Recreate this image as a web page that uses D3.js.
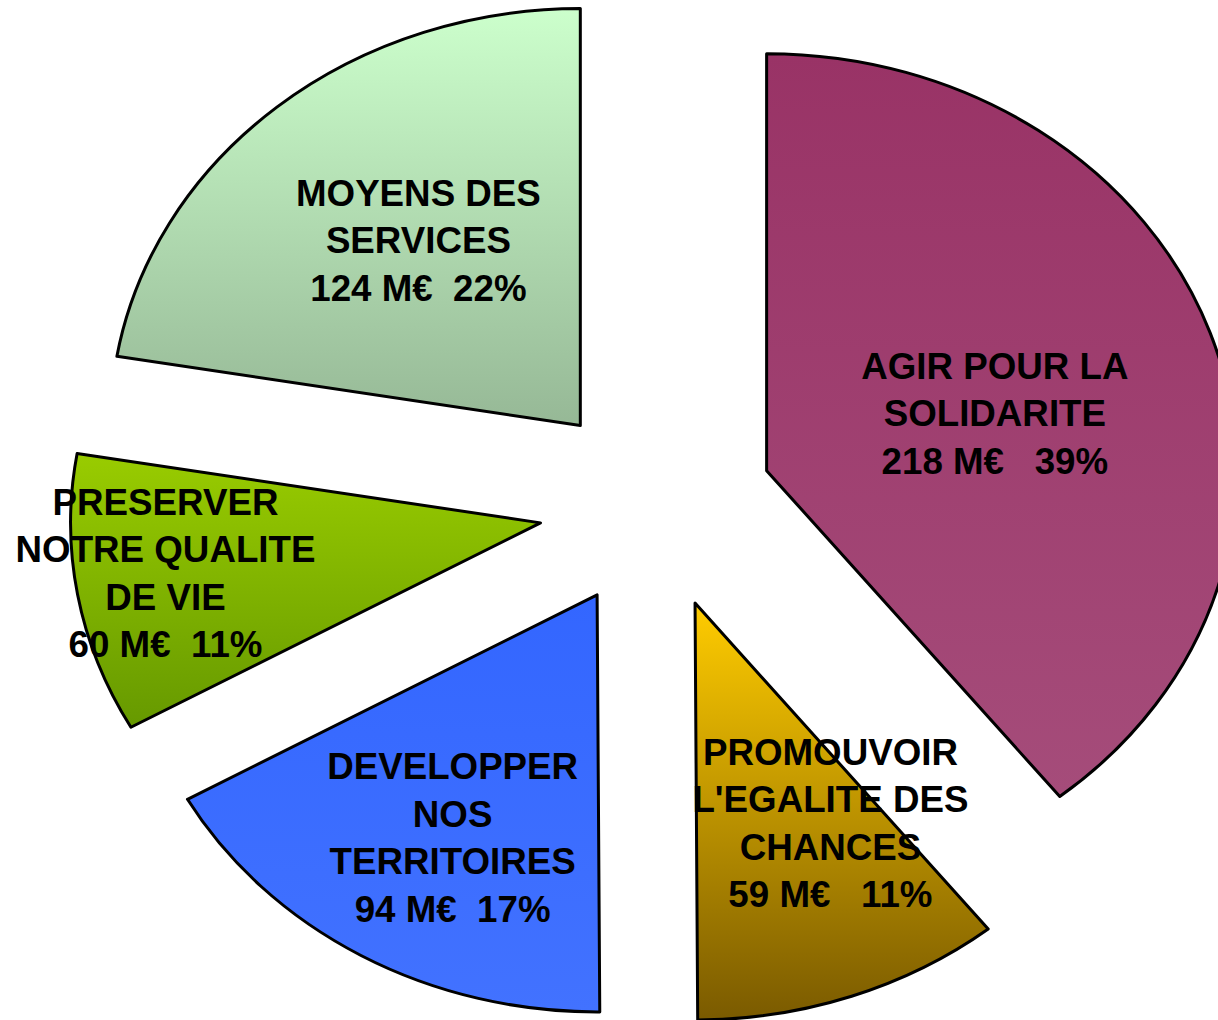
<!DOCTYPE html>
<html>
<head>
<meta charset="utf-8">
<script src="https://cdn.jsdelivr.net/npm/d3@7"></script>
<style>
  html, body { margin: 0; padding: 0; background: #fff; overflow: hidden; }
  #chart { width: 1218px; height: 1020px; }
  text { white-space: pre; }
</style>
</head>
<body>
<div id="chart"></div>
<script>
// budget slices, clockwise from 12 o'clock
const categories = ["AGIR POUR LA SOLIDARITE", "PROMOUVOIR L'EGALITE DES CHANCES", "DEVELOPPER NOS TERRITOIRES", "PRESERVER NOTRE QUALITE DE VIE", "MOYENS DES SERVICES"];
const amounts = [218, 59, 94, 60, 124]; // M€
const percents = [39, 11, 17, 11, 22];
const labelLines = [
  ["AGIR POUR LA", "SOLIDARITE", "218 M€   39%"],
  ["PROMOUVOIR", "L'EGALITE DES", "CHANCES", "59 M€   11%"],
  ["DEVELOPPER", "NOS", "TERRITOIRES", "94 M€  17%"],
  ["PRESERVER", "NOTRE QUALITE", "DE VIE", "60 M€  11%"],
  ["MOYENS DES", "SERVICES", "124 M€  22%"]
];
const gradTop = ["#993366", "#ffcc00", "#3366ff", "#99cc00", "#ccffcc"];
const gradBottom = ["#a54c7a", "#7a5a00", "#4272ff", "#669900", "#96b896"];
// label placement: fraction of radius along mid-angle, then a small nudge
const labelR = [0.51, 0.59, 0.65, 0.81, 0.56];
const labelDx = [2, 43, 9, 0, 8];
const labelDy = [13, -12, 8, -8, -7];

const width = 1218, height = 1020;
const cx = 656, cy = 505;
const radius = 417;
const sx = 1.127;      // pie is stretched horizontally
const explode = 104;

const svg = d3.select("#chart").append("svg")
  .attr("width", width)
  .attr("height", height);

const defs = svg.append("defs");
amounts.forEach((_, i) => {
  const g = defs.append("linearGradient")
    .attr("id", "grad" + i)
    .attr("x1", 0).attr("y1", 0).attr("x2", 0).attr("y2", 1);
  g.append("stop").attr("offset", "0%").attr("stop-color", gradTop[i]);
  g.append("stop").attr("offset", "100%").attr("stop-color", gradBottom[i]);
});

const pie = d3.pie().sort(null).value(d => d);
const arcs = pie(amounts);
const arc = d3.arc().innerRadius(0).outerRadius(radius);

const pieG = svg.append("g")
  .attr("transform", `translate(${cx},${cy}) scale(${sx},1)`);

pieG.selectAll("path")
  .data(arcs)
  .join("path")
  .attr("transform", d => {
    const a = (d.startAngle + d.endAngle) / 2;
    return `translate(${explode * Math.sin(a)},${-explode * Math.cos(a)})`;
  })
  .attr("d", arc)
  .attr("fill", (d, i) => `url(#grad${i})`)
  .attr("stroke", "#000")
  .attr("stroke-width", 3)
  .attr("stroke-linejoin", "round")
  .attr("vector-effect", "non-scaling-stroke");

// labels
const lineH = 47.5;
const labels = svg.append("g")
  .attr("font-family", "'Liberation Sans', Arial, sans-serif")
  .attr("font-weight", "bold")
  .attr("font-size", 36)
  .attr("fill", "#000");

arcs.forEach((d, i) => {
  const a = (d.startAngle + d.endAngle) / 2;
  const r = labelR[i] * radius;
  const x = cx + sx * (explode + r) * Math.sin(a) + labelDx[i];
  const y = cy - (explode + r) * Math.cos(a) + labelDy[i];
  const lines = labelLines[i];
  const g = labels.append("g")
    .attr("transform", `translate(${x},${y}) scale(1.02,1)`);
  g.selectAll("text")
    .data(lines)
    .join("text")
    .attr("x", 0)
    .attr("y", (t, k) => (k - (lines.length - 1) / 2) * lineH + 13)
    .attr("text-anchor", "middle")
    .text(t => t);
});
</script>
</body>
</html>
